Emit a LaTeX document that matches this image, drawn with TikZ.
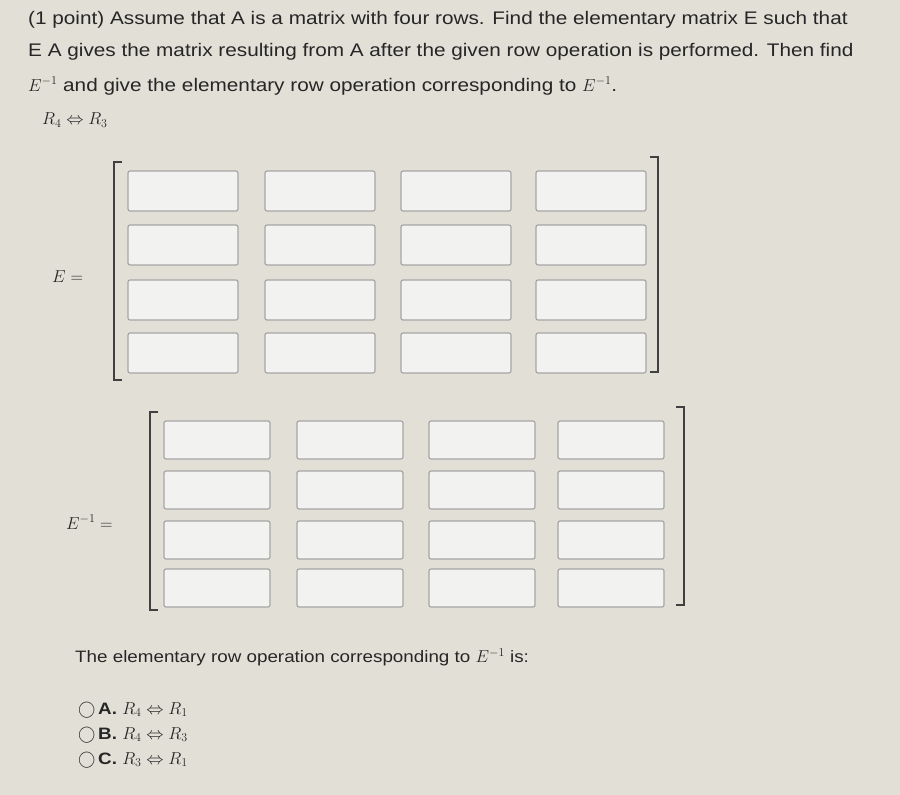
\documentclass[tikz,border=0pt]{standalone}
\usepackage{fontspec}
\setmainfont{Liberation Sans}[FakeStretch=1.14]
\begin{document}
\begin{tikzpicture}[x=1pt,y=-1pt,
  cell/.style={draw=gray!70,line width=1.2pt,rounded corners=2pt,fill=white!85!yellow!20!gray!15,minimum width=110pt,minimum height=40pt,inner sep=0pt},
  txt/.style={anchor=west,font=\fontsize{18.2}{21}\selectfont,text=black!85,inner sep=0pt},
  brk/.style={line width=1.6pt,draw=black!75}]
\fill[color={rgb,255:red,226;green,223;blue,214}] (0,0) rectangle (900,795);
\useasboundingbox (0,0) rectangle (900,795);
\node[txt] (l1) at (28,20) {(1 point) Assume that A is a matrix with four rows. Find the elementary matrix E such that};
\node[txt] (l2) at (28,52) {E A gives the matrix resulting from A after the given row operation is performed. Then find};
\node[txt] (l3) at (28,86) {$E^{-1}$ and give the elementary row operation corresponding to $E^{-1}$.};
\node[txt] (l4) at (42,120) {$R_4 \Leftrightarrow R_3$};
% E matrix
\node[txt] (el) at (52,277) {$E =$};
\draw[brk] (122,162) -- (114,162) -- (114,380) -- (122,380);
\draw[brk] (650,157) -- (658,157) -- (658,372) -- (650,372);
\foreach \c/\x in {1/183,2/320,3/456,4/591}{
  \foreach \r/\y in {1/191,2/245,3/300,4/353}{
    \node[cell] (e\r\c) at (\x,\y) {};
  }}
% Einv matrix
\node[txt] (il) at (66,522) {$E^{-1} =$};
\draw[brk] (158,412) -- (150,412) -- (150,610) -- (158,610);
\draw[brk] (676,407) -- (684,407) -- (684,605) -- (676,605);
\foreach \c/\x in {1/217,2/350,3/482,4/611}{
  \foreach \r/\y in {1/440,2/490,3/540,4/588}{
    \node[cell,minimum width=106pt,minimum height=38pt] (i\r\c) at (\x,\y) {};
  }}
\node[txt,font=\fontsize{16.5}{20}\selectfont] (q) at (75,657) {The elementary row operation corresponding to $E^{-1}$ is:};
\node[txt,font=\fontsize{16.5}{20}\selectfont] (oa) at (78,710) {$\bigcirc$\,\textbf{A.} $R_4 \Leftrightarrow R_1$};
\node[txt,font=\fontsize{16.5}{20}\selectfont] (ob) at (78,735) {$\bigcirc$\,\textbf{B.} $R_4 \Leftrightarrow R_3$};
\node[txt,font=\fontsize{16.5}{20}\selectfont] (oc) at (78,760) {$\bigcirc$\,\textbf{C.} $R_3 \Leftrightarrow R_1$};
\end{tikzpicture}
\end{document}
